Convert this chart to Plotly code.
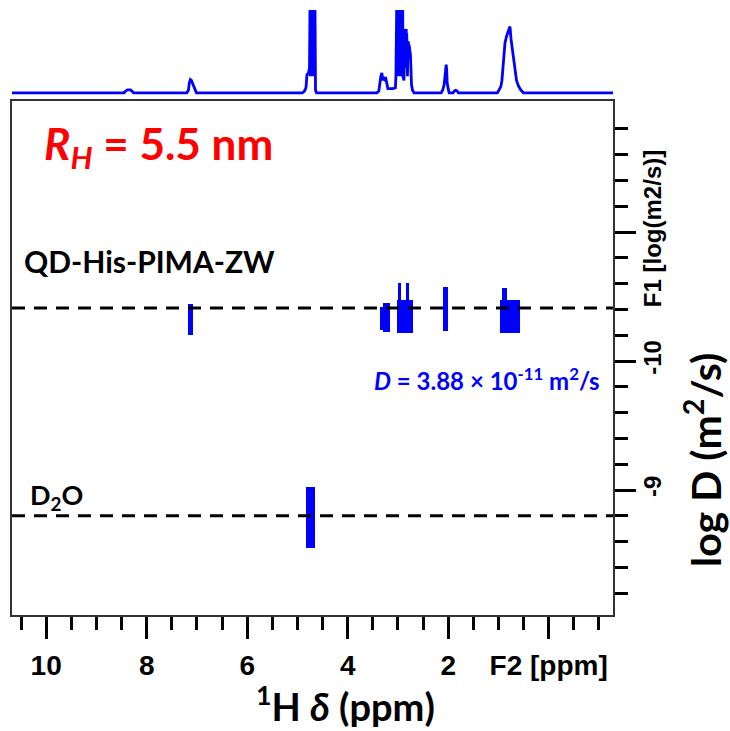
import math
import plotly.graph_objects as go

# ---- 1D 1H projection (ppm, relative intensity) ----
proj_ppm = [10.68, 8.45, 8.42, 8.38, 8.32, 8.29, 8.26,
            7.20, 7.17, 7.15, 7.13, 7.11, 7.09, 7.07, 7.04, 7.01,
            4.90, 4.86, 4.83, 4.81, 4.78, 4.76,
            4.750, 4.745, 4.740, 4.735, 4.730, 4.725, 4.720, 4.715, 4.710, 4.705,
            4.700, 4.695, 4.690, 4.685, 4.680, 4.675, 4.670, 4.665, 4.660, 4.655,
            4.650, 4.645, 4.640, 4.62,
            3.42, 3.38, 3.36, 3.34, 3.32, 3.30, 3.28, 3.26, 3.24, 3.22, 3.20,
            3.10, 3.05, 3.04,
            3.035, 3.030, 3.025, 3.020, 3.015, 3.010, 3.005, 3.000, 2.995, 2.990,
            2.985, 2.980, 2.975, 2.970, 2.965, 2.960, 2.955, 2.950, 2.945, 2.940,
            2.935, 2.930, 2.925, 2.920, 2.915, 2.910, 2.905,
            2.90, 2.88, 2.865, 2.86, 2.855, 2.85, 2.845, 2.84, 2.835, 2.83, 2.825,
            2.82, 2.815, 2.81, 2.80, 2.79, 2.77, 2.75, 2.73, 2.71, 2.68,
            2.14, 2.11, 2.08, 2.06, 2.04, 2.03, 2.02, 2.00, 1.98,
            1.90, 1.88, 1.85, 1.82, 1.80,
            1.02, 0.99, 0.95, 0.93, 0.90, 0.87, 0.84, 0.82, 0.79, 0.77, 0.75,
            0.72, 0.69, 0.67, 0.64, 0.60, 0.55, 0.50, -1.28]
proj_int = [0, 0, 2, 3.5, 3.5, 2, 0,
            0, 3, 12, 16, 15, 12, 8, 3, 0,
            0, 2, 6, 22, 24, 30,
            100, 20, 100, 30, 100, 20, 100, 30, 100, 20,
            100, 30, 100, 20, 100, 30, 100, 20, 100, 30,
            100, 10, 3, 0,
            0, 2, 12, 20, 24, 15, 19, 16, 17, 8, 5,
            5, 6, 20,
            100, 20, 100, 30, 100, 20, 100, 30, 100, 20,
            100, 30, 100, 20, 100, 30, 100, 20, 100, 30,
            100, 20, 100, 30, 100, 20, 100,
            20, 15, 77, 30, 77, 30, 74, 30, 77, 30, 72,
            30, 72, 20, 62, 60, 55, 45, 10, 3, 0,
            0, 3, 10, 20, 34, 28, 12, 5, 0,
            0, 2, 3, 2, 0,
            0, 3, 8, 15, 40, 60, 68, 72, 78, 80, 65,
            50, 35, 25, 15, 8, 3, 0, 0]

# ---- 2D DOSY cross peaks: centre ppm, ppm width, log D extent ----
peak_ppm = [7.12, 3.30, 3.22, 2.86, 2.97, 2.81, 2.06, 0.77, 0.88, 4.74]
peak_wid = [0.10, 0.10, 0.14, 0.32, 0.06, 0.06, 0.10, 0.40, 0.10, 0.18]
peak_top = [-10.442, -10.420, -10.450, -10.473, -10.605, -10.605, -10.574, -10.473, -10.566, -9.023]
peak_bot = [-10.202, -10.240, -10.225, -10.217, -10.473, -10.473, -10.233, -10.217, -10.473, -8.550]

# ---- diffusion coefficients (m^2/s) ----
D_qd = 3.88e-11
logD_d2o = -8.80

# ---- axis ticks ----
x_major = [10, 8, 6, 4, 2, 0]
x_major_text = ["10", "8", "6", "4", "2", "F2 [ppm]"]
x_minor = [10.5, 9.5, 9, 8.5, 7.5, 7, 6.5, 5.5, 5, 4.5, 3.5, 3, 2.5,
           1.5, 1, 0.5, -0.5, -1]
y_major = [-11, -10, -9]
y_major_text = ["F1 [log(m2/s)]", "-10", "-9"]
y_minor = [-11.8, -11.6, -11.4, -11.2, -10.8, -10.6, -10.4, -10.2,
           -9.8, -9.6, -9.4, -9.2, -8.8, -8.6, -8.4, -8.2]

BLUE = "#0000ff"
W, H = 730, 731
ML, MR, MT, MB = 12, 117, 8, 116
PW, PH = W - ML - MR, H - MT - MB


def px(xp):
    return (xp - ML) / PW


def py(yp):
    return (H - MB - yp) / PH


fig = go.Figure()

fig.add_trace(go.Scatter(
    x=proj_ppm, y=proj_int, mode="lines",
    line=dict(color=BLUE, width=2.8),
    xaxis="x2", yaxis="y2", showlegend=False, hoverinfo="skip"))

fig.add_trace(go.Bar(
    x=peak_ppm,
    base=peak_top,
    y=[b - t for t, b in zip(peak_top, peak_bot)],
    width=peak_wid,
    marker=dict(color=BLUE, line=dict(width=0)),
    xaxis="x", yaxis="y", showlegend=False, hoverinfo="skip"))

for val in [math.log10(D_qd), logD_d2o]:
    fig.add_shape(type="line", xref="x domain", yref="y",
                  x0=0, x1=1, y0=val, y1=val,
                  line=dict(color="black", width=3, dash="13px,9px"),
                  layer="above")

x_tick_font = dict(family="Liberation Sans Narrow, Arial Narrow, Liberation Sans",
                   size=28, color="black", weight="bold")
y_tick_font = dict(family="Liberation Sans Narrow, Arial Narrow, Liberation Sans",
                   size=24, color="black", weight="bold")

fig.update_layout(
    width=W, height=H,
    margin=dict(l=ML, r=MR, t=MT, b=MB),
    paper_bgcolor="white", plot_bgcolor="white",
    barmode="overlay", bargap=0,
    xaxis=dict(
        domain=[0, 1], range=[10.68, -1.28], anchor="y",
        showline=True, mirror=True, linecolor="#333", linewidth=2,
        showgrid=False, zeroline=False,
        ticks="outside", ticklen=22, tickwidth=2.5, tickcolor="black",
        tickmode="array", tickvals=x_major, ticktext=x_major_text,
        tickfont=x_tick_font, ticklabelstandoff=2,
        minor=dict(tickmode="array", tickvals=x_minor, ticks="outside",
                   ticklen=13, tickwidth=2.5, tickcolor="black", showgrid=False),
    ),
    yaxis=dict(
        domain=[0, py(101)], range=[-8.031, -12.016], anchor="x", side="right",
        showline=True, mirror=True, linecolor="#333", linewidth=2,
        showgrid=False, zeroline=False,
        ticks="outside", ticklen=21, tickwidth=2.5, tickcolor="black",
        tickmode="array", tickvals=y_major, ticktext=y_major_text,
        tickangle=-90, tickfont=y_tick_font, ticklabelstandoff=-4,
        minor=dict(tickmode="array", tickvals=y_minor, ticks="outside",
                   ticklen=13, tickwidth=2.5, tickcolor="black", showgrid=False),
    ),
    xaxis2=dict(domain=[0, 1], matches="x", anchor="y2", visible=False),
    yaxis2=dict(domain=[py(95), 1], range=[-2.66, 102.4], anchor="x2",
                visible=False),
)

ann_font = "Lato, Open Sans, sans-serif"
annotations = [
    dict(text="<b><i>R</i><sub><i>H</i></sub> = 5.5 nm</b>", x=px(42), y=py(147),
         xanchor="left", yanchor="middle", font=dict(family=ann_font, size=44, color="#ff0000")),
    dict(text="<b>QD-His-PIMA-ZW</b>", x=px(22), y=py(261),
         xanchor="left", yanchor="middle", font=dict(family=ann_font, size=30, color="black")),
    dict(text="<b><i>D</i> = 3.88 × 10<sup>-11</sup> m<sup>2</sup>/s</b>", x=px(372), y=py(379),
         xanchor="left", yanchor="middle", font=dict(family=ann_font, size=24, color=BLUE)),
    dict(text="<b>D<sub>2</sub>O</b>", x=px(28), y=py(496),
         xanchor="left", yanchor="middle", font=dict(family=ann_font, size=27, color="black")),
    dict(text="<b><sup>1</sup>H <i>δ</i> (ppm)</b>", x=px(346), y=py(704),
         xanchor="center", yanchor="middle", font=dict(family=ann_font, size=38, color="black")),
    dict(text="<b>log D (m<sup>2</sup>/s)</b>", x=px(703), y=py(460), textangle=-90,
         xanchor="center", yanchor="middle", font=dict(family=ann_font, size=41, color="black")),
]
for a in annotations:
    fig.add_annotation(xref="paper", yref="paper", showarrow=False, **a)

fig.write_html("out.html")
